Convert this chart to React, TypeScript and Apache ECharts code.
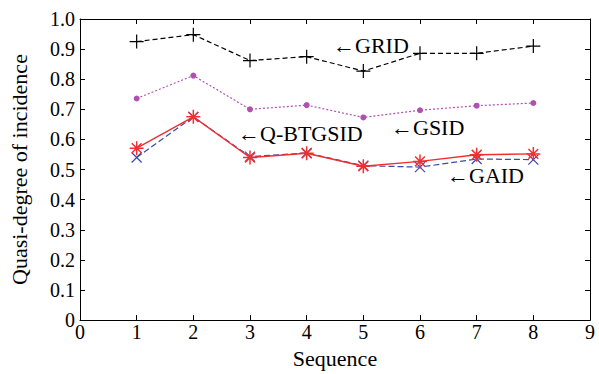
import React, { useEffect, useRef } from "react";
import * as echarts from "echarts";

const sequence = [1, 2, 3, 4, 5, 6, 7, 8];
const gridValues = [0.925, 0.948, 0.862, 0.875, 0.827, 0.886, 0.886, 0.91];
const gsidValues = [0.736, 0.812, 0.7, 0.714, 0.673, 0.697, 0.712, 0.721];
const qbtgsidValues = [0.571, 0.675, 0.54, 0.554, 0.511, 0.527, 0.549, 0.552];
const gaidValues = [0.54, 0.675, 0.543, 0.555, 0.513, 0.508, 0.535, 0.533];
const annotations = [
  { text: "\u2190GRID", x: 333, y: 45 },
  { text: "\u2190Q-BTGSID", x: 238, y: 133 },
  { text: "\u2190GSID", x: 391, y: 127 },
  { text: "\u2190GAID", x: 447, y: 175 },
];

const FONT = "Liberation Serif, Times New Roman, serif";

const pts = (vals: number[]) => sequence.map((s, i) => [s, vals[i]]);

export default function App() {
  const ref = useRef<HTMLDivElement>(null);
  useEffect(() => {
    if (!ref.current) return;
    const chart = echarts.init(ref.current, null, { renderer: "svg" });
    const axisCommon = {
      axisLine: { show: true, onZero: false, lineStyle: { color: "#000", width: 1 } },
      axisTick: { show: true, inside: true, length: 5, lineStyle: { color: "#000" } },
      splitLine: { show: false },
    };
    chart.setOption({
      animation: false,
      backgroundColor: "#fff",
      textStyle: { fontFamily: FONT },
      grid: { left: 80, right: 9, top: 19, bottom: 46, containLabel: false },
      xAxis: [
        {
          type: "value",
          min: 0,
          max: 9,
          interval: 1,
          position: "bottom",
          name: "Sequence",
          nameLocation: "middle",
          nameGap: 20,
          nameTextStyle: { fontFamily: FONT, fontSize: 22, color: "#000" },
          axisLabel: { fontFamily: FONT, fontSize: 20, color: "#000", margin: 2 },
          ...axisCommon,
        },
        {
          type: "value",
          min: 0,
          max: 9,
          interval: 1,
          position: "top",
          axisLabel: { show: false },
          ...axisCommon,
        },
      ],
      yAxis: [
        {
          type: "value",
          min: 0,
          max: 1,
          interval: 0.1,
          position: "left",
          name: "Quasi-degree of incidence",
          nameLocation: "middle",
          nameGap: 50,
          nameTextStyle: { fontFamily: FONT, fontSize: 22, color: "#000" },
          axisLabel: {
            fontFamily: FONT,
            fontSize: 20,
            color: "#000",
            margin: 5,
            formatter: (v: number) => (v === 0 ? "0" : v.toFixed(1)),
          },
          ...axisCommon,
        },
        {
          type: "value",
          min: 0,
          max: 1,
          interval: 0.1,
          position: "right",
          axisLabel: { show: false },
          ...axisCommon,
        },
      ],
      series: [
        {
          name: "GRID",
          type: "line",
          data: pts(gridValues),
          symbol: "path://M5,0L5,10M0,5L10,5",
          symbolSize: 14,
          itemStyle: { color: "#000", borderColor: "#000", borderWidth: 1.2 },
          lineStyle: { color: "#000", width: 1.2, type: [5, 3] },
        },
        {
          name: "GSID",
          type: "line",
          data: pts(gsidValues),
          symbol: "circle",
          symbolSize: 6,
          itemStyle: { color: "#b050b0", borderWidth: 0 },
          lineStyle: { color: "#b050b0", width: 1.2, type: [2, 2] },
        },
        {
          name: "GAID",
          type: "line",
          data: pts(gaidValues),
          symbol: "path://M0,0L10,10M10,0L0,10",
          symbolSize: 10,
          itemStyle: { color: "#3a4aa8", borderColor: "#3a4aa8", borderWidth: 1.2 },
          lineStyle: { color: "#3a4aa8", width: 1.2, type: [6, 3] },
        },
        {
          name: "Q-BTGSID",
          type: "line",
          data: pts(qbtgsidValues),
          symbol: "path://M5,0L5,10M0,5L10,5M1.5,1.5L8.5,8.5M8.5,1.5L1.5,8.5",
          symbolSize: 14,
          itemStyle: { color: "#f03030", borderColor: "#f03030", borderWidth: 1.5 },
          lineStyle: { color: "#f03030", width: 1.4 },
        },
      ],
      graphic: annotations.map((a) => ({
        type: "text",
        x: a.x,
        y: a.y,
        style: {
          text: a.text,
          fontFamily: FONT,
          fontSize: 22,
          fill: "#000",
          verticalAlign: "middle",
          align: "left",
        },
      })),
    });
    return () => chart.dispose();
  }, []);
  return <div ref={ref} style={{ width: 599, height: 374, position: "absolute", left: 0, top: 0 }} />;
}
